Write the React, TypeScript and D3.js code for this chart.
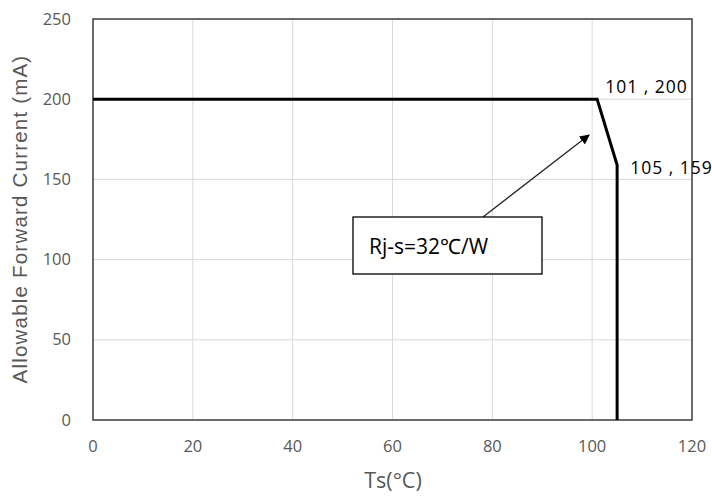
import React from "react";
import * as d3 from "d3";

const tsValues = [0, 101, 105, 105];
const currentValues = [200, 200, 159, 0];
const xTicks = [0, 20, 40, 60, 80, 100, 120];
const yTicks = [0, 50, 100, 150, 200, 250];
const pointLabels = [
  { x: 101, y: 200, text: "101 , 200" },
  { x: 105, y: 159, text: "105 , 159" },
];
const annotationText = "Rj-s=32℃/W";

export default function App() {
  const W = 712, H = 500;
  const left = 93, right = 692, top = 19, bottom = 420;
  const x = d3.scaleLinear().domain([0, 120]).range([left, right]);
  const y = d3.scaleLinear().domain([0, 250]).range([bottom, top]);
  const line = d3.line<number>().x((_, i) => x(tsValues[i])).y((d) => y(d));
  const font = "'Open Sans', sans-serif";
  const tickColor = "#595959";
  const boxX0 = x.invert(353), boxX1 = x.invert(542);
  const boxY0 = y.invert(217), boxY1 = y.invert(274);
  const arrowFrom = { x: x.invert(483), y: boxY0 };
  const arrowTo = { x: x.invert(589), y: y.invert(135) };
  return (
    <svg width={W} height={H} style={{ position: "absolute", left: 0, top: 0, background: "#fff" }}>
      <defs>
        <marker id="ah" viewBox="0 0 10 10" refX="9" refY="5" markerWidth="10" markerHeight="10" markerUnits="userSpaceOnUse" orient="auto">
          <path d="M0,0 L10,5 L0,10 z" fill="#000" />
        </marker>
      </defs>
      {xTicks.map((t) => (
        <line key={"gx" + t} x1={x(t)} x2={x(t)} y1={top} y2={bottom} stroke="#d9d9d9" strokeWidth={1} />
      ))}
      {yTicks.map((t) => (
        <line key={"gy" + t} x1={left} x2={right} y1={y(t)} y2={y(t)} stroke="#d9d9d9" strokeWidth={1} />
      ))}
      <rect x={left} y={top} width={right - left} height={bottom - top} fill="none" stroke="#404040" strokeWidth={1.5} />
      {xTicks.map((t) => (
        <text key={"tx" + t} x={x(t)} y={452} textAnchor="middle" fontSize={16.5} fill={tickColor} fontFamily={font}>{t}</text>
      ))}
      {yTicks.map((t) => (
        <text key={"ty" + t} x={71} y={y(t) + 5.5} textAnchor="end" fontSize={16.5} fill={tickColor} fontFamily={font}>{t}</text>
      ))}
      <text x={393} y={488} textAnchor="middle" fontSize={21.5} fill={tickColor} fontFamily={font}>Ts(°C)</text>
      <text transform={`translate(27,219) rotate(-90)`} textAnchor="middle" fontSize={20.5} letterSpacing={1.2} fill={tickColor} fontFamily="'Liberation Sans', Arial, sans-serif">Allowable Forward Current (mA)</text>
      <path d={line(currentValues) || ""} fill="none" stroke="#000" strokeWidth={3} strokeLinejoin="miter" />
      {pointLabels.map((p, i) => (
        <text key={"pl" + i} x={x(p.x) + (i === 0 ? 8 : 13)} y={y(p.y) + (i === 0 ? -6.5 : 9.5)} fontSize={17.5} letterSpacing={1} fill="#000" fontFamily={font}>{p.text}</text>
      ))}
      <line x1={x(arrowFrom.x)} y1={y(arrowFrom.y)} x2={x(arrowTo.x)} y2={y(arrowTo.y)} stroke="#262626" strokeWidth={1.3} markerEnd="url(#ah)" />
      <rect x={x(boxX0)} y={y(boxY0)} width={x(boxX1) - x(boxX0)} height={y(boxY1) - y(boxY0)} fill="#fff" stroke="#000" strokeWidth={1.3} />
      <text x={369} y={254} fontSize={21} fill="#000" fontFamily={font}>{annotationText}</text>
    </svg>
  );
}
